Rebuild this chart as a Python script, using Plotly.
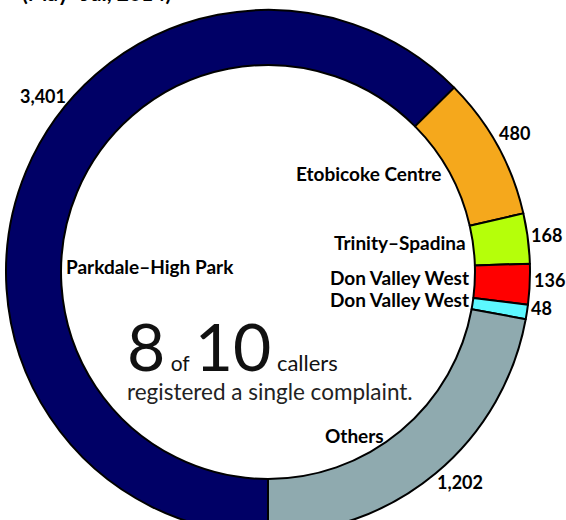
import plotly.graph_objects as go

# Callers by riding (May–Jul, 2014)
ridings = ["Parkdale–High Park", "Etobicoke Centre", "Trinity–Spadina",
           "Don Valley West", "Don Valley West", "Others"]
callers = [3401, 480, 168, 136, 48, 1202]
colors = ["#000066", "#F5A81C", "#B5FF0A", "#FF0000", "#5CF8FF", "#8FAAAF"]

W, H = 566, 544
CX, CY, R = 268, 272, 262


def px(x):
    return x / W


def py(y):
    return 1 - y / H


# unique slice keys so the two "Don Valley West" slices are kept apart
keys = [f"{i}:{name}" for i, name in enumerate(ridings)]

fig = go.Figure(go.Pie(
    labels=keys,
    values=callers,
    sort=False,
    direction="clockwise",
    rotation=180,
    hole=0.79,
    marker=dict(colors=colors, line=dict(color="#000000", width=2)),
    textinfo="none",
    hoverinfo="skip",
    showlegend=False,
    domain=dict(x=[px(CX - R), px(CX + R)], y=[py(CY + R), py(CY - R)]),
))

FONT = "Lato, 'Open Sans', sans-serif"

# riding names inside the ring (right edge, vertical centre)
name_pos = [(235, 267), (443, 173), (467, 242), (470, 277), (470, 299), (385, 435)]
for name, (x, y) in zip(ridings, name_pos):
    fig.add_annotation(x=px(x), y=py(y), xref="paper", yref="paper",
                       text=f"<b>{name}</b>", showarrow=False,
                       xanchor="right", yanchor="middle", borderpad=0,
                       font=dict(family=FONT, size=19, color="#000000"))

# caller counts outside the ring
value_pos = [(43, 96), (514, 133), (546, 235), (549, 280), (541, 308), (460, 482)]
for v, (x, y) in zip(callers, value_pos):
    fig.add_annotation(x=px(x), y=py(y), xref="paper", yref="paper",
                       text=f"<b>{v:,}</b>", showarrow=False,
                       xanchor="center", yanchor="middle",
                       font=dict(family=FONT, size=18, color="#000000"))

# headline in the hole
fig.add_annotation(x=px(125), y=py(355), xref="paper", yref="paper",
                   text="<span style='font-size:66px'>8</span>"
                        "<span style='font-size:21px'> of </span>"
                        "<span style='font-size:66px'>10</span>"
                        "<span style='font-size:22px'> callers</span>"
                        "<br><span style='font-size:22.5px;color:#222222'>"
                        "registered a single complaint.</span>",
                   showarrow=False, xanchor="left", yanchor="middle",
                   align="left",
                   font=dict(family=FONT, size=22, color="#111111"))

# period subtitle at the top edge
fig.add_annotation(x=px(20), y=py(-7), xref="paper", yref="paper",
                   text="<b>(May–Jul, 2014)</b>", showarrow=False,
                   xanchor="left", yanchor="middle",
                   font=dict(family=FONT, size=21, color="#000000"))

fig.update_layout(width=W, height=H, margin=dict(l=0, r=0, t=0, b=0),
                  paper_bgcolor="#FFFFFF", plot_bgcolor="#FFFFFF")

fig.write_html("out.html")
